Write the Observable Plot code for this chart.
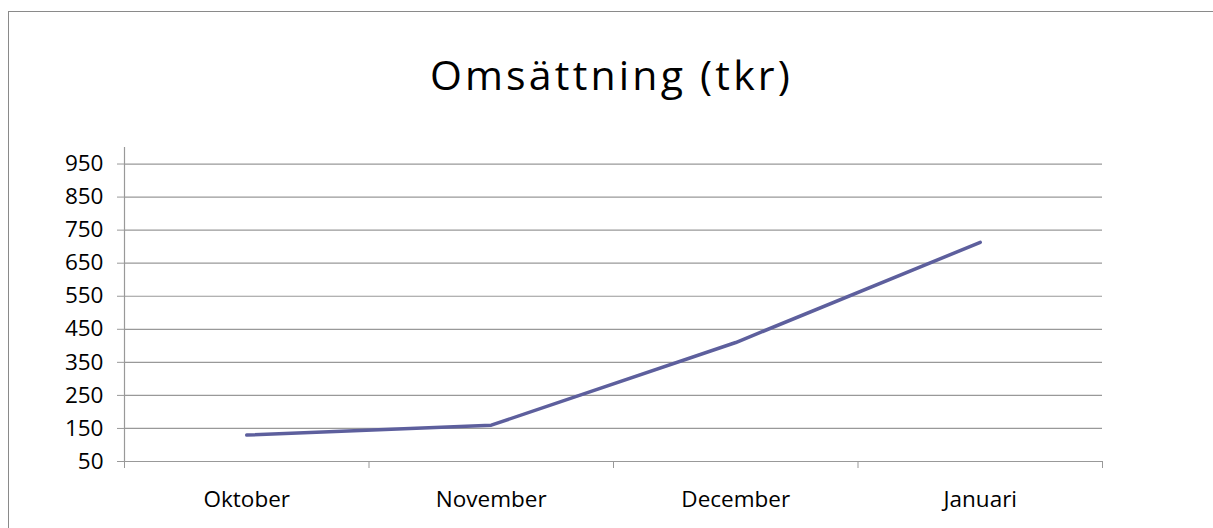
<!DOCTYPE html>
<html>
<head>
<meta charset="utf-8">
<script src="https://cdn.jsdelivr.net/npm/d3@7"></script>
<script src="https://cdn.jsdelivr.net/npm/@observablehq/plot@0.6"></script>
<style>
  html, body { margin: 0; padding: 0; background: #fff; overflow: hidden; }
  #wrap { position: relative; width: 1213px; height: 528px; }
  #frame { position: absolute; left: 8px; top: 11px; width: 1400px; height: 700px; border: 1px solid #8a8a8a; box-sizing: border-box; }
  #title { position: absolute; left: 0; width: 1223px; top: 50px; text-align: center; font-family: "Open Sans", sans-serif; font-size: 41px; line-height: 48px; letter-spacing: 3.2px; color: #000; }
  #chart { position: absolute; left: 0; top: 0; }
</style>
</head>
<body>
<div id="wrap">
  <div id="frame"></div>
  <div id="chart"></div>
  <div id="title">Omsättning (tkr)</div>
</div>
<script>
const months = ["Oktober", "November", "December", "Januari"];
const values = [130, 160, 410, 713];
const yTicks = [50, 150, 250, 350, 450, 550, 650, 750, 850, 950];
const yDomain = [50, 1000];

const idx = months.map((_, i) => i);
const data = months.map((m, i) => ({i, month: m, value: values[i]}));
const boundaries = d3.range(-0.5, months.length, 1);

const plot = Plot.plot({
  width: 1213,
  height: 528,
  marginLeft: 124,
  marginRight: 111,
  marginTop: 147,
  marginBottom: 67,
  style: {fontFamily: "Open Sans, sans-serif", fontSize: "22.5px", color: "#000", background: "transparent"},
  x: {type: "linear", domain: [-0.5, months.length - 0.5]},
  y: {domain: yDomain},
  marks: [
    Plot.ruleY(yTicks, {stroke: "#999", strokeWidth: 1.2}),
    Plot.ruleX([-0.5], {y1: yDomain[0], y2: yDomain[1], stroke: "#999", strokeWidth: 1.2}),
    Plot.axisY({ticks: yTicks, tickSize: 7, tickPadding: 14, tickFormat: d => String(d), stroke: "#999", strokeOpacity: 1, label: null, fill: "#000", letterSpacing: 1}),
    Plot.axisX({ticks: boundaries, tickSize: 7, tickFormat: () => "", stroke: "#999", strokeOpacity: 1, label: null}),
    Plot.axisX({ticks: idx, tickSize: 0, tickPadding: 30, tickFormat: i => months[i], label: null, fill: "#000", letterSpacing: 1.2}),
    Plot.line(data, {x: "i", y: "value", stroke: "#5d5f9d", strokeWidth: 3.5})
  ]
});
document.getElementById("chart").append(plot);
</script>
</body>
</html>
